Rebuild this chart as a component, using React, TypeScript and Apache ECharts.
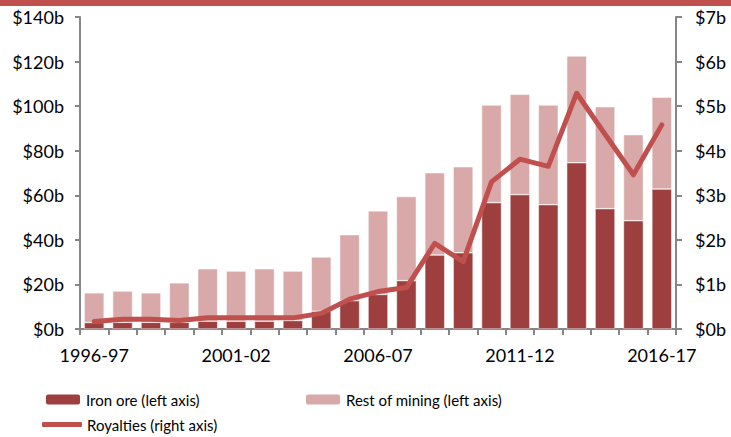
import React, { useEffect, useRef } from "react";
import * as echarts from "echarts";

const years = [
  "1996-97", "1997-98", "1998-99", "1999-00", "2000-01", "2001-02", "2002-03",
  "2003-04", "2004-05", "2005-06", "2006-07", "2007-08", "2008-09", "2009-10",
  "2010-11", "2011-12", "2012-13", "2013-14", "2014-15", "2015-16", "2016-17",
];
const ironOre = [2.9, 3, 3, 3, 3.5, 3.5, 3.5, 3.8, 8, 12.7, 15.5, 21.7, 33.2, 34.2, 56.7, 60.3, 55.8, 74.6, 54, 48.6, 62.8];
const restOfMining = [13.3, 14, 13.2, 17.7, 23.5, 22.5, 23.5, 22.2, 24.3, 29.6, 37.5, 37.7, 36.9, 38.6, 43.8, 45, 44.7, 47.9, 45.7, 38.6, 41.2];
const royalties = [0.17, 0.22, 0.22, 0.19, 0.25, 0.25, 0.25, 0.25, 0.35, 0.67, 0.84, 0.93, 1.92, 1.51, 3.3, 3.81, 3.65, 5.29, 4.37, 3.46, 4.58];

const FONT = "Lato";
const AXIS = "#868686";
const DARK = "#9e3f3f";
const LIGHT = "#d9a9a9";
const LINE = "#c0504d";

export default function App() {
  const ref = useRef<HTMLDivElement>(null);
  useEffect(() => {
    const chart = echarts.init(ref.current!, null, { renderer: "svg" });
    const legendText = { fontFamily: FONT, fontSize: 15, color: "#000" };
    chart.setOption({
      animation: false,
      textStyle: { fontFamily: FONT },
      graphic: [
        { type: "rect", shape: { x: 0, y: 0, width: 731, height: 6 }, style: { fill: LINE } },
      ],
      grid: { left: 80, right: 55, top: 17, bottom: 108, containLabel: false },
      legend: [
        {
          data: ["Iron ore (left axis)"], left: 44, top: 392, padding: 0, itemWidth: 36, itemHeight: 12, itemGap: 5,
          textStyle: legendText,
        },
        {
          data: ["Rest of mining (left axis)"], left: 304, top: 392, padding: 0, itemWidth: 36, itemHeight: 12,
          textStyle: legendText,
        },
        {
          data: [{ name: "Royalties (right axis)", icon: "roundRect" }], left: 42, top: 417, padding: 0, itemWidth: 40, itemHeight: 5,
          textStyle: legendText,
        },
      ],
      xAxis: {
        type: "category",
        data: years,
        axisLine: { lineStyle: { color: AXIS, width: 2 } },
        axisTick: { show: true, interval: 0, length: 6, lineStyle: { color: AXIS, width: 2 } },
        axisLabel: {
          interval: 4,
          margin: 17,
          fontSize: 18,
          fontFamily: FONT,
          color: "#000",
        },
      },
      yAxis: [
        {
          type: "value", min: 0, max: 140, interval: 20, position: "left",
          axisLine: { show: true, lineStyle: { color: AXIS, width: 2 } },
          axisTick: { show: true, length: 5, lineStyle: { color: AXIS, width: 2 } },
          splitLine: { show: false },
          axisLabel: { formatter: (v: number) => `$${v}b`, fontSize: 18, fontFamily: FONT, color: "#000", margin: 16 },
        },
        {
          type: "value", min: 0, max: 7, interval: 1, position: "right",
          axisLine: { show: true, lineStyle: { color: AXIS, width: 2 } },
          axisTick: { show: true, length: 6, lineStyle: { color: AXIS, width: 2 } },
          splitLine: { show: false },
          axisLabel: { formatter: (v: number) => `$${v}b`, fontSize: 18, fontFamily: FONT, color: "#000", margin: 19 },
        },
      ],
      series: [
        {
          name: "Iron ore (left axis)", type: "bar", stack: "m", data: ironOre, barCategoryGap: "30%",
          itemStyle: { color: DARK, borderColor: "#fff", borderWidth: 0.5 },
        },
        {
          name: "Rest of mining (left axis)", type: "bar", stack: "m", data: restOfMining,
          itemStyle: { color: LIGHT, borderColor: "#fff", borderWidth: 0.5 },
        },
        {
          name: "Royalties (right axis)", type: "line", yAxisIndex: 1, data: royalties,
          symbol: "none", lineStyle: { color: LINE, width: 5, cap: "round", join: "round" }, itemStyle: { color: LINE },
        },
      ],
    });
    return () => chart.dispose();
  }, []);
  return <div ref={ref} style={{ width: 731, height: 437, position: "absolute", left: 0, top: 0 }} />;
}
